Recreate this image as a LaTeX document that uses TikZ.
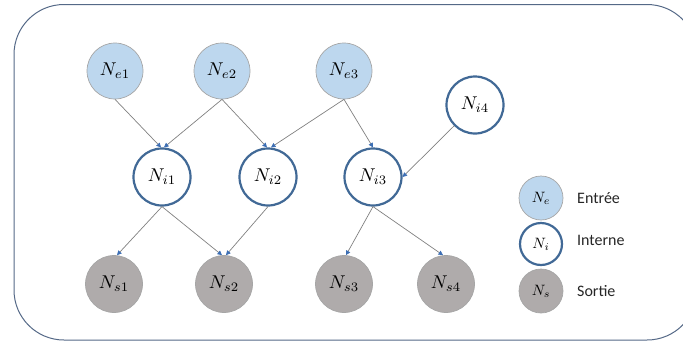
\documentclass[tikz,border=0pt]{standalone}
\usepackage{graphicx}
\usepackage{fontspec}
\newfontfamily\legfont{Carlito}
\usetikzlibrary{arrows.meta}
\newcommand\nlabbig[1]{\scalebox{1.85}{$N_{#1}$}}
\newcommand\nlabsmall[1]{\scalebox{1.5}{$N_{#1}$}}
\definecolor{inblue}{RGB}{189,215,238}
\definecolor{outgray}{RGB}{175,171,171}
\definecolor{ringblue}{RGB}{65,105,150}
\definecolor{framecol}{RGB}{85,105,135}
\definecolor{edgegray}{RGB}{128,128,128}
\definecolor{tipblue}{RGB}{60,110,180}
\tikzset{
  x=1pt, y=-1pt,
  entnode/.style={circle, draw=gray!70, line width=0.7pt, fill=inblue, minimum size=56pt, inner sep=0pt},
  intnode/.style={circle, draw=ringblue, line width=2.2pt, fill=white, minimum size=57pt, inner sep=0pt},
  outnode/.style={circle, draw=gray!70, line width=0.7pt, fill=outgray, minimum size=57pt, inner sep=0pt},
  legsize/.style={minimum size=44pt},
  legtext/.style={anchor=west, inner sep=0pt, font=\legfont\fontsize{16}{19}\selectfont, text=black!85},
  conn/.style={draw=edgegray, line width=0.7pt, -{Triangle[length=4.5pt,width=4.5pt,color=tipblue]}},
}
\begin{document}
\begin{tikzpicture}
\useasboundingbox (0,0) rectangle (683,341);
\begin{scope}
\clip (0,0) rectangle (683,341);
\draw[framecol, line width=1pt, rounded corners=50pt] (14,4.5) rectangle (697,340);
\end{scope}

\node[entnode] (ne1) at (115,71) {\nlabbig{e1}};
\node[entnode] (ne2) at (222,71) {\nlabbig{e2}};
\node[entnode] (ne3) at (344,71) {\nlabbig{e3}};
\node[intnode] (ni4) at (475,105) {\nlabbig{i4}};
\node[intnode] (ni1) at (162,177) {\nlabbig{i1}};
\node[intnode] (ni2) at (268,177) {\nlabbig{i2}};
\node[intnode] (ni3) at (373,177) {\nlabbig{i3}};
\node[outnode] (ns1) at (114,284) {\nlabbig{s1}};
\node[outnode] (ns2) at (224,284) {\nlabbig{s2}};
\node[outnode] (ns3) at (344,284) {\nlabbig{s3}};
\node[outnode] (ns4) at (446,284) {\nlabbig{s4}};

\draw[conn] (ne1.south) -- ([xshift=-1pt]ni1.north);
\draw[conn] (ne2.south) -- ([xshift=2pt]ni1.north);
\draw[conn] (ne2.south) -- ([xshift=-1pt]ni2.north);
\draw[conn] (ne3.south) -- ([xshift=3pt]ni2.north);
\draw[conn] (ne3.south) -- (ni3.north);
\draw[conn] (ni4.225) -- (ni3.east);
\draw[conn] (ni1.south) -- ([xshift=3pt]ns1.north);
\draw[conn] (ni1.south) -- ([xshift=-2pt]ns2.north);
\draw[conn] (ni2.south) -- ([xshift=2pt]ns2.north);
\draw[conn] (ni3.south) -- ([xshift=2pt]ns3.north);
\draw[conn] (ni3.south) -- ([xshift=-3pt]ns4.north);

\node[entnode, legsize] (le) at (541,198) {\nlabsmall{e}};
\node[intnode, legsize, minimum size=42pt] (li) at (541,244) {\nlabsmall{i}};
\node[outnode, legsize] (ls) at (541,291) {\nlabsmall{s}};
\node[legtext] (te) at (577,198) {Entrée};
\node[legtext] (ti) at (577,240) {Interne};
\node[legtext] (ts) at (577,291) {Sortie};
\end{tikzpicture}
\end{document}
